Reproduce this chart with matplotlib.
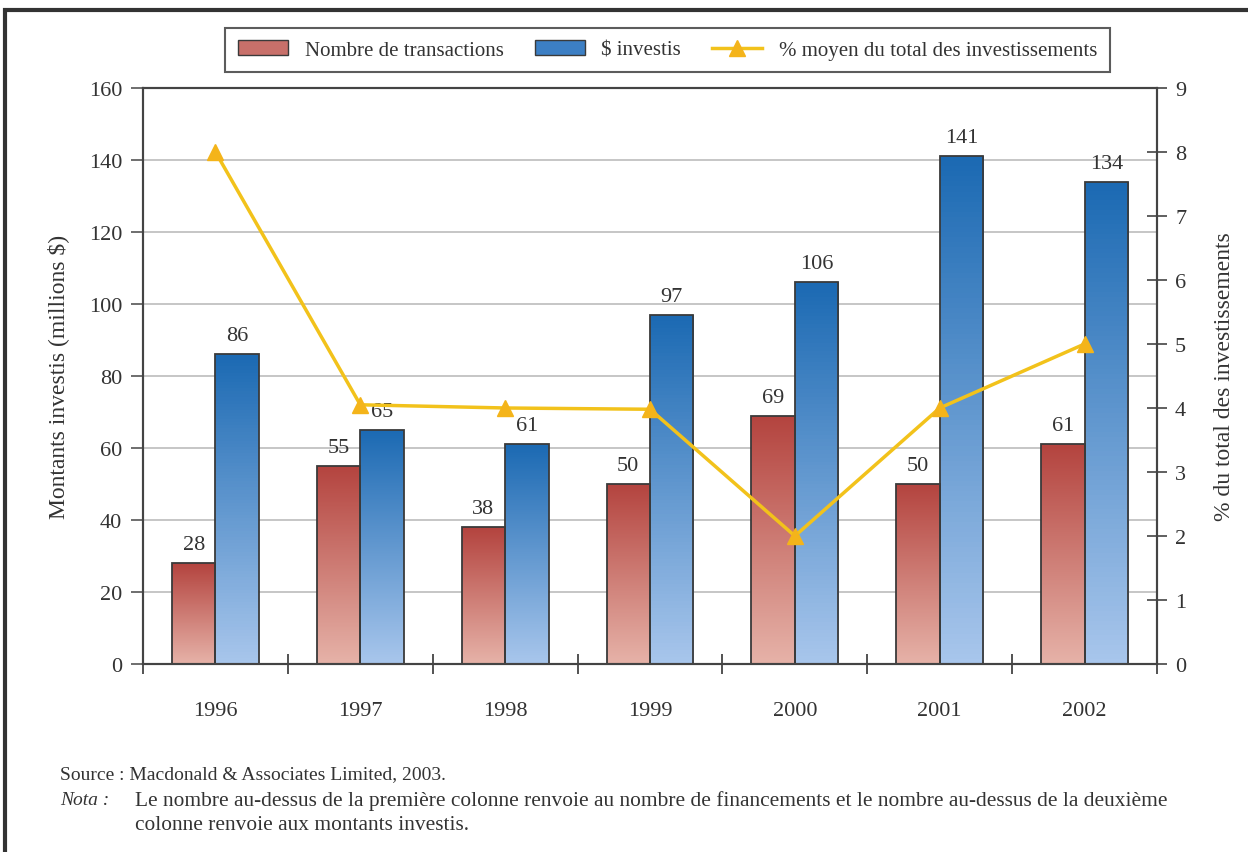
import matplotlib
matplotlib.use('Agg')
import matplotlib.pyplot as plt
import numpy as np
from matplotlib.colors import LinearSegmentedColormap
from matplotlib.patches import Rectangle, Patch
from matplotlib.lines import Line2D

plt.rcParams['font.family'] = ['Liberation Serif', 'DejaVu Serif']

# data
years = ['1996', '1997', '1998', '1999', '2000', '2001', '2002']
transactions = [28, 55, 38, 50, 69, 50, 61]
invested = [86, 65, 61, 97, 106, 141, 134]
pct_total = [8.0, 4.05, 4.0, 3.98, 2.0, 4.0, 5.0]

txt = '#333333'
red_cmap = LinearSegmentedColormap.from_list('r', ['#e6b2a8', '#b4443f'])
blue_cmap = LinearSegmentedColormap.from_list('b', ['#a8c6ec', '#1c6ab3'])

fig = plt.figure(figsize=(12.48, 8.53), dpi=100)
ax = fig.add_axes([0.1146, 0.2204, 0.8125, 0.6753])

x = np.arange(len(years))
w = 0.3
grad = np.linspace(0, 1, 100).reshape(-1, 1)

def gradient_bars(xs, vals, cmap):
    bars = ax.bar(xs, vals, w, facecolor='none', edgecolor='#3a3a3a',
                  linewidth=1.3, zorder=3)
    for b in bars:
        bx, by = b.get_x(), b.get_y()
        bw, bh = b.get_width(), b.get_height()
        im = ax.imshow(grad, cmap=cmap, origin='lower', aspect='auto',
                       extent=[bx, bx + bw, by, by + bh], zorder=2)
        clip = Rectangle((bx, by), bw, bh, transform=ax.transData)
        im.set_clip_path(clip)
    return bars

b1 = gradient_bars(x - w / 2, transactions, red_cmap)
b2 = gradient_bars(x + w / 2, invested, blue_cmap)

for xi, v in zip(x - w / 2, transactions):
    ax.text(xi, v + 2.5, str(v), ha='center', va='bottom', fontsize=16, color=txt)
for xi, v in zip(x + w / 2, invested):
    ax.text(xi, v + 2.5, str(v), ha='center', va='bottom', fontsize=16, color=txt)

ax.set_xlim(-0.5, len(years) - 0.5)
ax.set_ylim(0, 160)
ax.set_yticks(np.arange(0, 161, 20))
ax.yaxis.grid(True, color='#c2c2c2', linewidth=1.3, zorder=0)
ax.set_axisbelow(True)
ax.set_xticks(x)
ax.set_xticklabels(years)
ax.set_xticks(np.arange(-0.5, len(years), 1), minor=True)
ax.tick_params(axis='x', which='major', length=0, pad=27, labelsize=16, labelcolor=txt)
ax.tick_params(axis='x', which='minor', direction='inout', length=14, width=1.3, color='#444444')
ax.tick_params(axis='y', direction='out', length=9, width=1.2, color='#555555',
               labelsize=16, labelcolor=txt, pad=6)
for s in ax.spines.values():
    s.set_color('#444444')
    s.set_linewidth(1.5)
ax.set_ylabel('Montants investis (millions $)', fontsize=17, color=txt, labelpad=14)

ax2 = ax.twinx()
ax2.plot(x, pct_total, color='#f2c21b', linewidth=2.5, marker='^',
         markersize=12, markerfacecolor='#f4b41a', markeredgecolor='#f4b41a', zorder=5)
ax2.set_ylim(0, 9)
ax2.set_yticks(range(0, 10))
ax2.tick_params(axis='y', direction='inout', length=14, width=1.2, color='#444444',
                labelsize=16, labelcolor=txt, pad=6)
for s in ax2.spines.values():
    s.set_color('#444444')
    s.set_linewidth(1.5)
ax2.set_ylabel('% du total des investissements', fontsize=17, color=txt, labelpad=20)

handles = [Patch(facecolor='#c8706a', edgecolor='#3a3a3a'),
           Patch(facecolor='#3c7fc4', edgecolor='#3a3a3a'),
           Line2D([], [], color='#f2c21b', lw=2.5, marker='^', markersize=12,
                  markerfacecolor='#f4b41a', markeredgecolor='#f4b41a')]
labels = ['Nombre de transactions', '$ investis', '% moyen du total des investissements']
leg = fig.legend(handles, labels, loc='center', bbox_to_anchor=(0.535, 0.940), ncol=3,
                 frameon=True, fancybox=False, fontsize=15, handlelength=2.4,
                 columnspacing=1.5, borderpad=0.6)
leg.get_frame().set_edgecolor('#333333')
leg.get_frame().set_linewidth(1.5)
for t in leg.get_texts():
    t.set_color(txt)

# outer frame of the page
fig.patches.append(Rectangle((0.004, -0.1), 1.2, 1.087, transform=fig.transFigure,
                             fill=False, edgecolor='#333333', linewidth=3))

fig.text(60 / 1248, 1 - 775 / 853, 'Source : Macdonald & Associates Limited, 2003.',
         fontsize=14, color=txt, va='center')
fig.text(60 / 1248, 1 - 801 / 853, 'Nota :', fontsize=14, color=txt, va='center', style='italic')
fig.text(135 / 1248, 1 - 801 / 853,
         'Le nombre au-dessus de la première colonne renvoie au nombre de financements '
         'et le nombre au-dessus de la deuxième', fontsize=15.4, color=txt, va='center')
fig.text(135 / 1248, 1 - 826 / 853, 'colonne renvoie aux montants investis.',
         fontsize=15.4, color=txt, va='center')

fig.savefig('out.png', dpi=100)
